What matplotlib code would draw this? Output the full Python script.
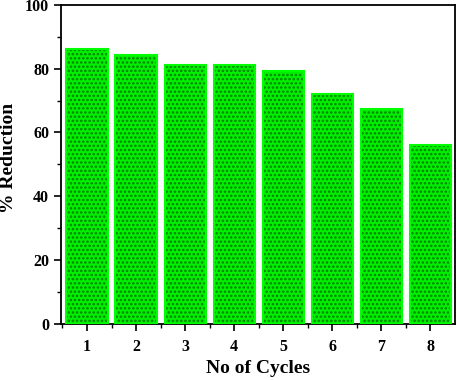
import matplotlib
matplotlib.use("Agg")
import matplotlib.pyplot as plt
from matplotlib.ticker import MultipleLocator

cycles = [1, 2, 3, 4, 5, 6, 7, 8]
reduction = [86.2, 84.2, 81.2, 81.2, 79.2, 72.2, 67.2, 56.2]

plt.rcParams['font.family'] = ['Liberation Serif', 'DejaVu Serif']
plt.rcParams['font.weight'] = 'bold'
plt.rcParams['hatch.linewidth'] = 1.2

fig = plt.figure(figsize=(4.57, 3.8), dpi=100)
ax = fig.add_axes([0.1335, 0.1474, 0.862, 0.84])

ax.bar(cycles, reduction, width=0.84, color='#00f000', edgecolor='#007f00',
       linewidth=0, hatch='....', zorder=2)
ax.bar(cycles, reduction, width=0.84, fill=False, edgecolor='#00ff00',
       linewidth=1.5, zorder=3)

ax.set_xlim(0.47, 8.5)
ax.set_ylim(0, 100)
ax.set_xticks(cycles)
ax.set_xticks([c + 0.5 for c in cycles[:-1]] + [0.5], minor=True)
ax.yaxis.set_major_locator(MultipleLocator(20))
ax.yaxis.set_minor_locator(MultipleLocator(10))
ax.tick_params(axis='both', which='major', direction='out', length=5, width=1.2, labelsize=11.5)
ax.tick_params(axis='both', which='minor', direction='out', length=3, width=1.0)
ax.tick_params(axis='x', which='major', pad=6)
for s in ax.spines.values():
    s.set_linewidth(1.3)

ax.set_xlabel('No of Cycles', fontsize=14, fontweight='bold')
ax.set_ylabel('% Reduction', fontsize=14, fontweight='bold')
ax.xaxis.set_label_coords(0.5, -0.141)
ax.yaxis.set_label_coords(-0.134, 0.52)
ax.xaxis.label.set_va('center')
ax.yaxis.label.set_va('center')

fig.savefig('out.png', dpi=100)
